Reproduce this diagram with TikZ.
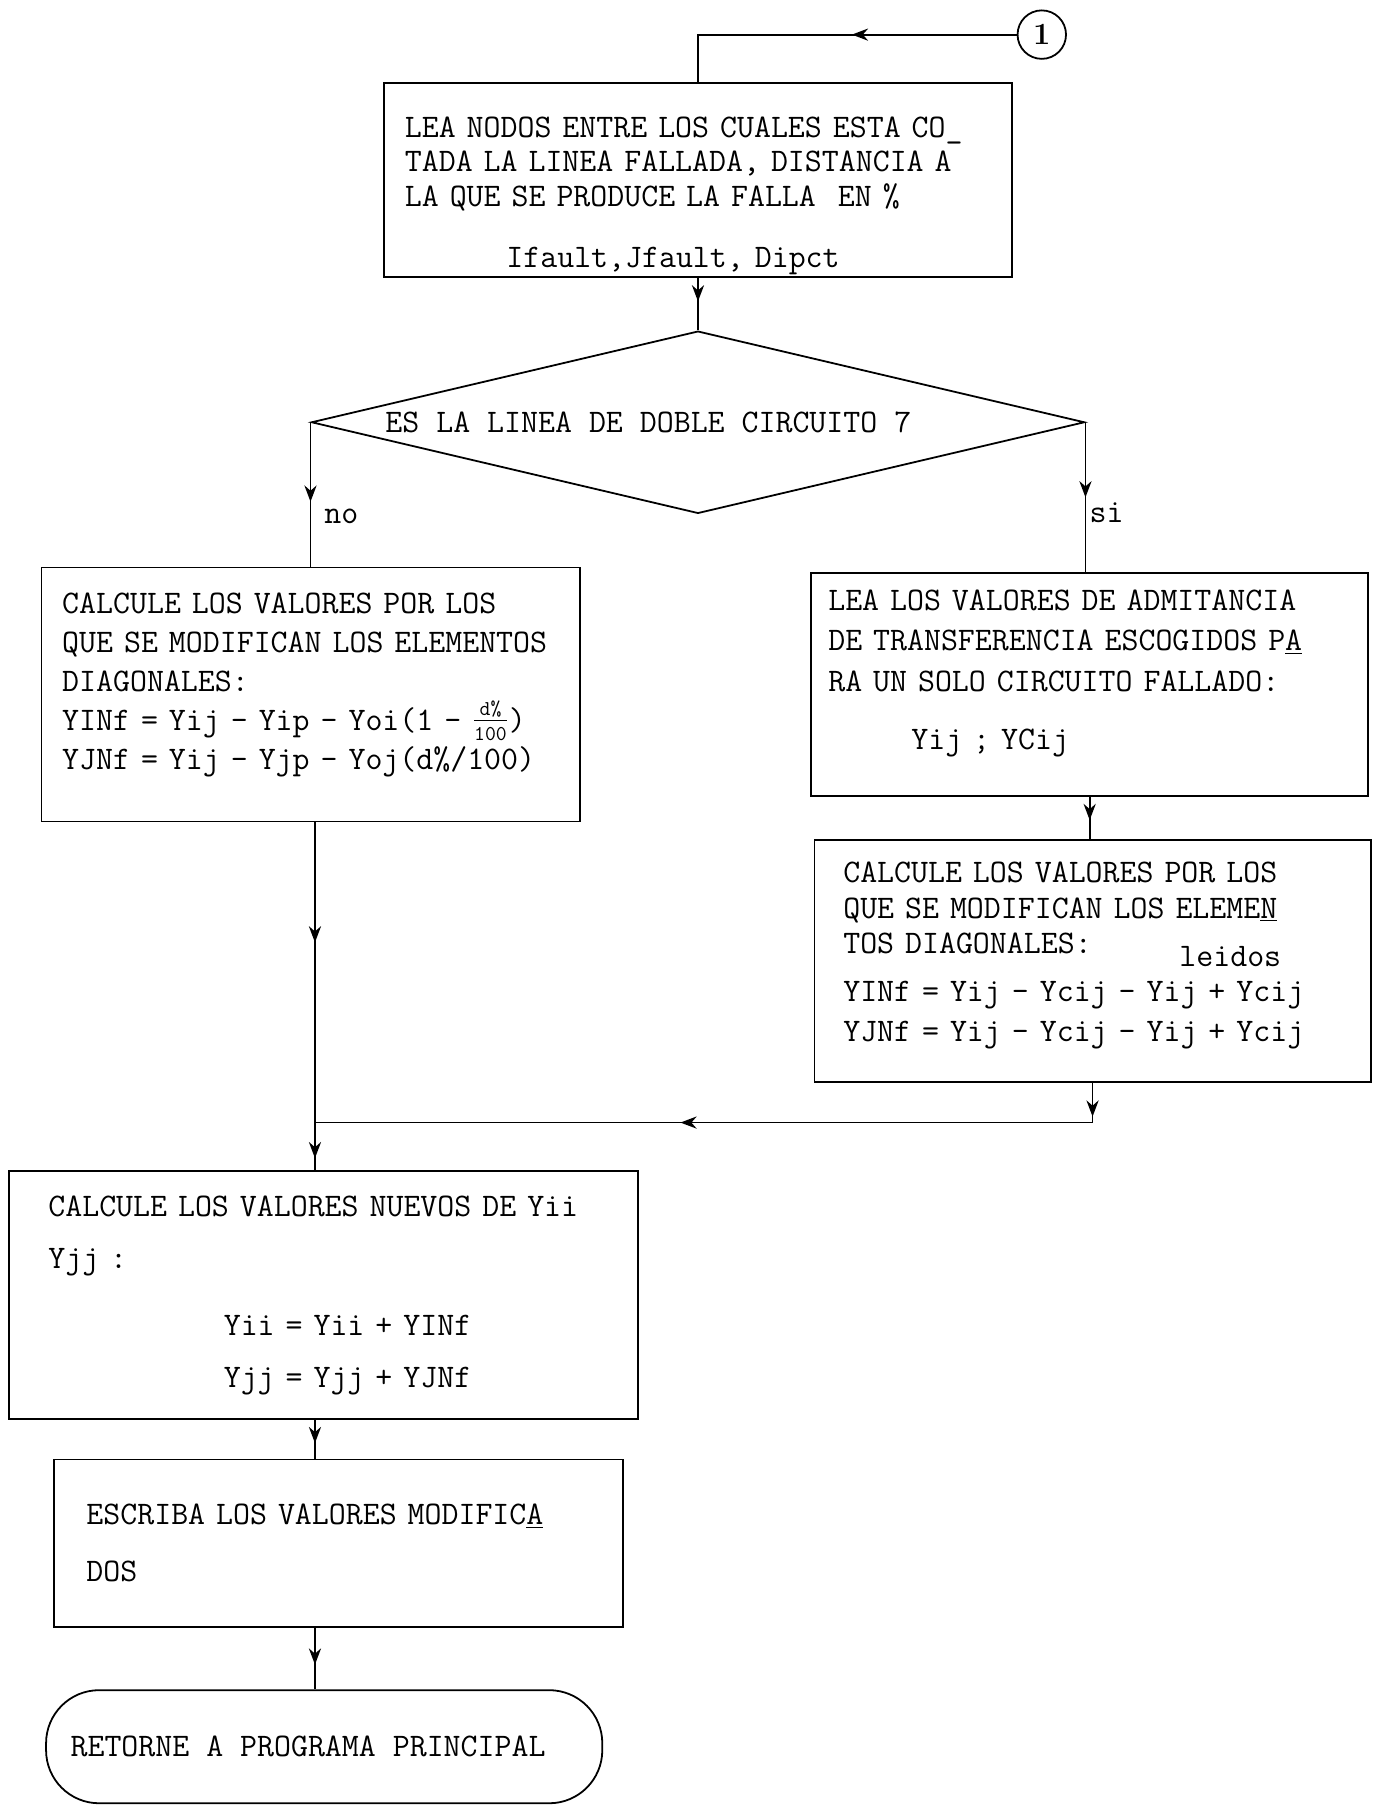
\documentclass[tikz,border=0pt]{standalone}
\usepackage{fontspec}
\usepackage{tikz}
\usetikzlibrary{arrows.meta,shapes.geometric,positioning,calc,decorations.markings}
\newcommand\fcfrac[2]{\smash{\raisebox{1pt}{$\frac{\mbox{\fontsize{13}{13}\selectfont #1}}{\mbox{\fontsize{13}{13}\selectfont #2}}$}}}
\tikzset{
  fcbox/.style={draw,line width=1.1pt,align=left,inner ysep=0pt,
      font=\ttfamily\fontsize{20.3}{#1}\selectfont},
  fcbox/.default=24,
  fcdec/.style={diamond,draw,line width=1.1pt,aspect=4.2,inner sep=0pt,
      minimum width=16.75cm,minimum height=3.95cm,
      font=\ttfamily\fontsize{20.3}{24}\selectfont},
  fcterm/.style={draw,line width=1.1pt,rounded corners=1.15cm,
      font=\ttfamily\fontsize{20.3}{24}\selectfont},
  fcconn/.style={draw,line width=1.1pt,circle,inner sep=0pt,minimum size=1.05cm,
      font=\rmfamily\bfseries\fontsize{19}{19}\selectfont},
  fcline/.style={line width=1.1pt},
  arrowat/.style={postaction={decorate},decoration={markings,
      mark=at position #1 with {\arrow{Stealth[length=10pt,width=7.5pt]}}}},
  fclab/.style={font=\ttfamily\fontsize{20.3}{24}\selectfont,inner sep=2pt},
}
\begin{document}
\begin{tikzpicture}[x=0.025cm,y=-0.025cm]
  \useasboundingbox (0,0) rectangle (1194,1568);

  \node[fcconn] (c1) at (903,30) {1};

  \node[fcbox=21,minimum width=13.6cm,minimum height=4.2cm,text width=12.7cm,
    inner xsep=0.45cm] (lea) at (605,156)
   {\rule{0pt}{1.15cm}LEA NODOS ENTRE LOS CUALES ESTA CO\_\\
    TADA LA LINEA FALLADA, DISTANCIA A\\
    LA QUE SE PRODUCE LA FALLA~~EN \%\\[0.6cm]
    \hspace*{2.2cm}Ifault,Jfault, Dipct};

  \node[fcdec] (dec) at (605,366) {ES LA LINEA DE DOBLE CIRCUITO 7\hspace*{2.15cm}};

  \node[fcbox=24,minimum width=11.675cm,minimum height=5.5cm,text width=10.775cm,
    inner xsep=0.45cm] (calcno) at (269.5,602)
   {CALCULE LOS VALORES POR LOS\\
    QUE SE MODIFICAN LOS ELEMENTOS\\
    DIAGONALES:\\
    YINf = Yij – Yip – Yoi(1 – \fcfrac{d\%}{100})\\
    YJNf = Yij – Yjp – Yoj(d\%/100)\rule[-0.58cm]{0pt}{0.58cm}};

  \node[fcbox=25,minimum width=12.075cm,minimum height=4.825cm,text width=11.325cm,
    inner xsep=0.375cm] (leasi) at (944.5,593.5)
   {LEA LOS VALORES DE ADMITANCIA\\
    DE TRANSFERENCIA ESCOGIDOS P\underline{A}\\
    RA UN SOLO CIRCUITO FALLADO:\\[0.375cm]
    \hspace*{1.8cm}Yij ; YCij\rule[-0.66cm]{0pt}{0.66cm}};

  \node[fcbox=22,minimum width=12.05cm,minimum height=5.25cm,text width=10.8cm,
    inner xsep=0.625cm] (calcsi) at (947,833)
   {CALCULE LOS VALORES POR LOS\\
    QUE SE MODIFICAN LOS ELEME\underline{N}\\
    TOS DIAGONALES:\hspace{1.9cm}\smash{\raisebox{-0.28cm}{leidos}}\\[0.25cm]
    YINf = Yij – Ycij – Yij + Ycij\\[0.1cm]
    YJNf = Yij – Ycij – Yij + Ycij\rule[-0.41cm]{0pt}{0.41cm}};

  \node[fcbox=32,minimum width=13.625cm,minimum height=5.375cm,text width=11.925cm,
    inner xsep=0.85cm] (nuevos) at (280.5,1122.5)
   {CALCULE LOS VALORES NUEVOS DE Yii\\
    Yjj :\\[0.33cm]
    \hspace*{3.8cm}Yii = Yii + YINf\\
    \hspace*{3.8cm}Yjj = Yjj + YJNf};

  \node[fcbox=35,minimum width=12.325cm,minimum height=3.625cm,text width=10.925cm,
    inner xsep=0.7cm] (escriba) at (293.5,1337.5)
   {ESCRIBA LOS VALORES MODIFIC\underline{A}\\
    DOS};

  \node[fcterm,minimum width=12.05cm,minimum height=2.45cm] (retorne) at (281,1514)
   {RETORNE A PROGRAMA PRINCIPAL\hspace*{0.7cm}};

  \coordinate (spine) at (273,0);
  \coordinate (jl) at (273,973);
  \coordinate (jr) at (calcsi.south |- jl);

  \draw[fcline,arrowat=0.45] (c1.west) -| (lea.north);
  \draw[fcline,arrowat=0.45] (lea.south) -- (dec.north);
  \draw[fcline,arrowat=0.55] (dec.west) -- (dec.west |- calcno.north)
    node[fclab,pos=0.65,anchor=west,xshift=6pt] (lno) {no};
  \draw[fcline,arrowat=0.5] (dec.east) -- (dec.east |- leasi.north)
    node[fclab,pos=0.6,anchor=west] (lsi) {si};
  \draw[fcline,arrowat=0.55] (leasi.south) -- (leasi.south |- calcsi.north);
  \draw[fcline,arrowat=0.4] (spine |- calcno.south) -- (jl);
  \draw[fcline,arrowat=0.75] (jl) -- (spine |- nuevos.north);
  \draw[fcline,arrowat=0.85] (calcsi.south) -- (jr);
  \draw[fcline,arrowat=0.53] (jr) -- (jl);
  \draw[fcline,arrowat=0.6] (spine |- nuevos.south) -- (spine |- escriba.north);
  \draw[fcline,arrowat=0.6] (spine |- escriba.south) -- (spine |- retorne.north);
\end{tikzpicture}
\end{document}
